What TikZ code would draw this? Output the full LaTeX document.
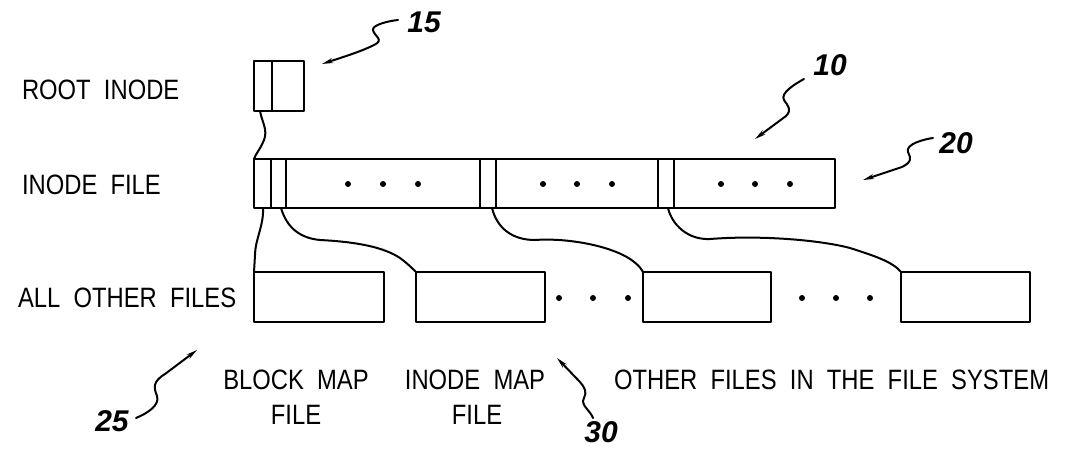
\documentclass[tikz,border=0pt]{standalone}
\usepackage{fontspec}
\setmainfont{Liberation Sans}[FakeStretch=0.85,WordSpace=2]
\newfontfamily\numfont{Liberation Sans}
\usetikzlibrary{arrows.meta}
\begin{document}
\begin{tikzpicture}[x=1pt,y=-1pt,
  line width=2.2pt, line join=round, line cap=round,
  box/.style={draw, rectangle, inner sep=0pt, outer sep=0pt},
  lbl/.style={inner sep=0pt, outer sep=0pt, font=\fontsize{28}{32}\selectfont},
  num/.style={inner sep=0pt, font=\numfont\bfseries\itshape\fontsize{30}{32}\selectfont},
  wire/.style={line width=2pt},
  leader/.style={line width=2pt, -{Stealth[length=11pt,width=5pt]}},
  dot/.style={fill, circle, inner sep=0pt, minimum size=6pt}
]
\useasboundingbox (0,0) rectangle (1067,451);

% root inode
\node[box, minimum width=50, minimum height=50] (root) at (279,86) {};
\draw (272,61) -- (272,111);

% inode file strip
\node[box, minimum width=581, minimum height=49] (ifile) at (544.5,183.5) {};
\foreach \x in {271,286,480,496,658,674} \draw (\x,159) -- (\x,208);
\foreach \x in {348,383,418,543,577,612,721,755,790} \node[dot] at (\x,184) {};

% other files
\node[box, minimum width=130, minimum height=50, anchor=north west] (bmap) at (254,272) {};
\node[box, minimum width=129, minimum height=50, anchor=north west] (imap) at (416,272) {};
\node[box, minimum width=128, minimum height=50, anchor=north west] (of1) at (643,272) {};
\node[box, minimum width=129, minimum height=50, anchor=north west] (of2) at (901,272) {};
\foreach \x in {559,593,628,802,836,870} \node[dot] at (\x,298) {};

% connector anchors
\coordinate (r0) at (260,111);
\coordinate (c0) at (263,208);
\coordinate (c1) at (281,208);
\coordinate (c2) at (492,208);
\coordinate (c3) at (668,208);

\draw[wire] (r0) .. controls (262,122) and (268,130) .. (264,140) .. controls (260,150) and (256,153) .. (ifile.north west);
\draw[wire] (c0) .. controls (264,225) and (255,240) .. (255,255) -- (bmap.north west);
\draw[wire] (c1) .. controls (287,228) and (300,238) .. (320,240) .. controls (360,242) and (385,248) .. (400,258) .. controls (408,264) and (412,268) .. (imap.north west);
\draw[wire] (c2) .. controls (497,228) and (512,240) .. (535,240) .. controls (560,238) and (600,243) .. (625,256) .. controls (636,262) and (641,268) .. (of1.north west);
\draw[wire] (c3) .. controls (672,225) and (688,240) .. (710,239) .. controls (760,235) and (820,240) .. (850,248) .. controls (875,256) and (893,262) .. (of2.north west);

% row labels
\node[lbl, anchor=base west] (lroot) at (22,99) {ROOT INODE};
\node[lbl, anchor=base west] (lifile) at (22,194) {INODE FILE};
\node[lbl, anchor=base west] (lother) at (18,307) {ALL OTHER FILES};

% bottom labels
\node[lbl, anchor=base] (lbm1) at (296,389) {BLOCK MAP};
\node[lbl, anchor=base] (lbm2) at (296,424) {FILE};
\node[lbl, anchor=base] (lim1) at (475,389) {INODE MAP};
\node[lbl, anchor=base] (lim2) at (477,424) {FILE};
\node[lbl, anchor=base west] (lofs) at (614,389) {OTHER FILES IN THE FILE SYSTEM};

% reference numerals
\node[num] (n15) at (424,22) {15};
\node[num] (n10) at (830,65) {10};
\node[num] (n20) at (956,143) {20};
\node[num] (n25) at (112,421) {25};
\node[num] (n30) at (601,432) {30};

\coordinate (t15) at (322,64);
\coordinate (t10) at (755,139);
\coordinate (t20) at (863,180);
\coordinate (t25) at (197,350);
\coordinate (t30) at (557,358);

\draw[leader] (398,20) .. controls (388,21) and (372,25) .. (373,30) .. controls (374,36) and (385,40) .. (374,45) .. controls (360,52) and (340,58) .. (t15);
\draw[leader] (804,79) .. controls (795,84) and (780,93) .. (784,100) .. controls (788,106) and (792,110) .. (786,116) -- (t10);
\draw[leader] (933,138) .. controls (925,139) and (905,144) .. (908,152) .. controls (911,158) and (912,162) .. (902,167) -- (t20);
\draw[leader] (136,418) .. controls (148,413) and (160,405) .. (157,396) .. controls (154,388) and (152,382) .. (165,374) -- (t25);
\draw[leader] (593,418) .. controls (590,410) and (580,405) .. (584,398) .. controls (587,392) and (585,388) .. (580,382) -- (t30);
\end{tikzpicture}
\end{document}
